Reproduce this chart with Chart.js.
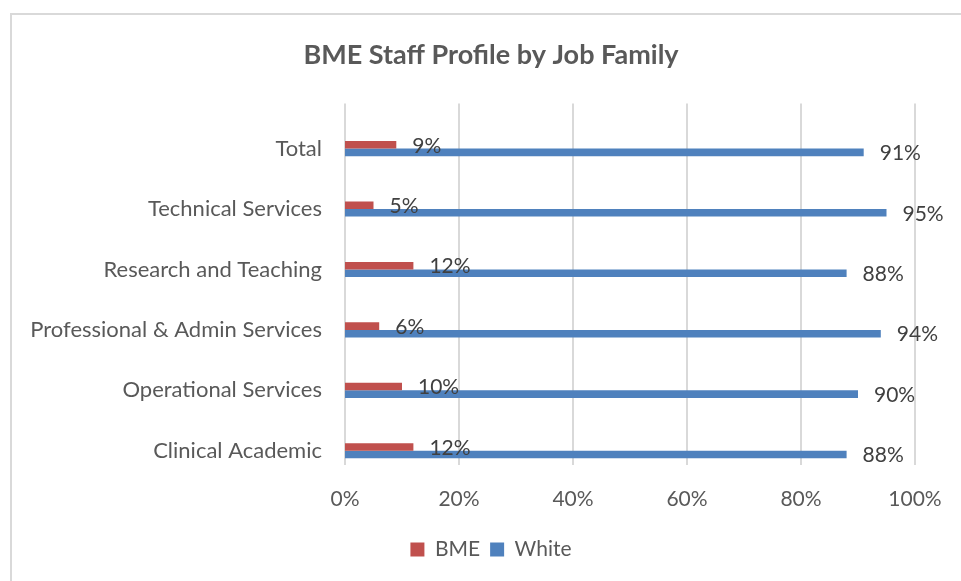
<!DOCTYPE html>
<html>
<head>
<meta charset="utf-8">
<script src="https://cdn.jsdelivr.net/npm/chart.js@4/dist/chart.umd.min.js"></script>
<style>
  html, body { margin: 0; padding: 0; background: #fff; }
  #wrap { position: relative; width: 961px; height: 581px; overflow: hidden; }
  #frame { position: absolute; left: 10px; top: 13px; width: 980px; height: 600px; border: 2px solid #d9d9d9; box-sizing: border-box; }
  canvas { position: absolute; left: 0; top: 0; }
</style>
</head>
<body>
<div id="wrap">
  <div id="frame"></div>
  <canvas id="chart" width="961" height="581"></canvas>
</div>
<script>
const FONT = 'Lato';

const jobFamilies = [
  'Total',
  'Technical Services',
  'Research and Teaching',
  'Professional & Admin Services',
  'Operational Services',
  'Clinical Academic',
];
const bmeShare = [9, 5, 12, 6, 10, 12];
const whiteShare = [91, 95, 88, 94, 90, 88];
const percentTicks = [0, 20, 40, 60, 80, 100];

// vertical gridlines sit a bit above the category bands, like the source workbook
const gridLines = {
  id: 'gridLines',
  beforeDatasetsDraw(chart) {
    const { ctx, chartArea: { top, bottom }, scales: { x } } = chart;
    ctx.save();
    ctx.strokeStyle = '#d9d9d9';
    ctx.lineWidth = 2;
    percentTicks.forEach((v) => {
      const px = Math.round(x.getPixelForValue(v));
      ctx.beginPath();
      ctx.moveTo(px, top - 15);
      ctx.lineTo(px, bottom - 16);
      ctx.stroke();
    });
    ctx.restore();
  },
};

const valueLabels = {
  id: 'valueLabels',
  afterDatasetsDraw(chart) {
    const { ctx } = chart;
    ctx.save();
    ctx.font = `21px ${FONT}`;
    ctx.fillStyle = '#404040';
    ctx.textAlign = 'left';
    ctx.textBaseline = 'middle';
    chart.data.datasets.forEach((ds, i) => {
      chart.getDatasetMeta(i).data.forEach((bar, j) => {
        ctx.fillText(`${ds.data[j]}%`, bar.x + 16, bar.y + 1);
      });
    });
    ctx.restore();
  },
};

new Chart(document.getElementById('chart'), {
  type: 'bar',
  data: {
    labels: jobFamilies,
    datasets: [
      {
        label: 'BME',
        data: bmeShare,
        backgroundColor: '#C0504D',
        categoryPercentage: 0.25,
        barPercentage: 1,
      },
      {
        label: 'White',
        data: whiteShare,
        backgroundColor: '#4F81BD',
        categoryPercentage: 0.25,
        barPercentage: 1,
      },
    ],
  },
  options: {
    indexAxis: 'y',
    responsive: false,
    animation: false,
    layout: {
      padding: { left: 21, right: 0, top: 0, bottom: 11 },
    },
    plugins: {
      title: {
        display: true,
        text: 'BME Staff Profile by Job Family',
        color: '#595959',
        font: { family: FONT, size: 27, weight: 'bold' },
        padding: { top: 39, bottom: 47 },
      },
      legend: {
        position: 'bottom',
        labels: {
          color: '#595959',
          font: { family: FONT, size: 21 },
          boxWidth: 14,
          boxHeight: 14,
          padding: 10,
        },
      },
      tooltip: { enabled: false },
    },
    scales: {
      x: {
        min: 0,
        max: 100,
        grid: { display: false, drawTicks: false },
        border: { display: false },
        afterFit: (scale) => { scale.height = 48; },
        afterBuildTicks: (scale) => {
          scale.ticks = percentTicks.map((v) => ({ value: v }));
        },
        ticks: {
          color: '#595959',
          font: { family: FONT, size: 21 },
          padding: 6,
          maxRotation: 0,
          callback: (v) => `${v}%`,
        },
      },
      y: {
        grid: { display: false, drawTicks: false },
        border: { display: false },
        afterFit: (scale) => { scale.width = 324; },
        ticks: {
          color: '#595959',
          font: { family: FONT, size: 22 },
          padding: 23,
        },
      },
      // empty right-hand gutter so the plot ends short of the frame
      gutter: {
        type: 'category',
        position: 'right',
        grid: { display: false, drawTicks: false },
        border: { display: false },
        ticks: { display: false },
        afterFit: (scale) => { scale.width = 46; },
      },
    },
  },
  plugins: [gridLines, valueLabels],
});
</script>
</body>
</html>
